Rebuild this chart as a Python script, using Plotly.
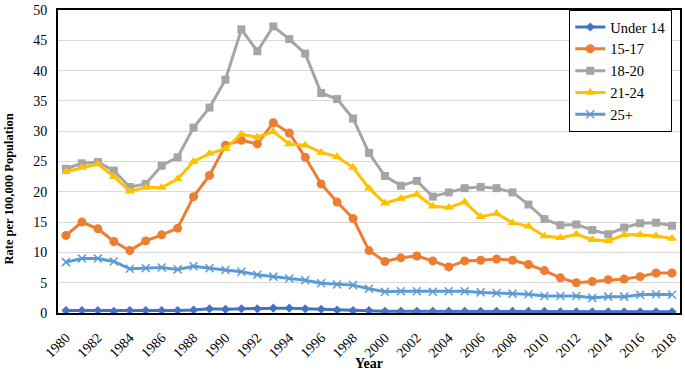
import plotly.graph_objects as go

years = list(range(1980, 2019))

under14 = [0.4, 0.4, 0.4, 0.3, 0.4, 0.4, 0.4, 0.4, 0.5, 0.7, 0.6, 0.7, 0.7, 0.8, 0.8, 0.7, 0.6, 0.5, 0.4, 0.4,
           0.3, 0.3, 0.3, 0.3, 0.3, 0.3, 0.3, 0.3, 0.3, 0.3, 0.3, 0.2, 0.2, 0.2, 0.2, 0.2, 0.2, 0.2, 0.2]
age15_17 = [12.8, 15.0, 13.9, 11.8, 10.3, 11.9, 12.9, 14.0, 19.2, 22.7, 27.7, 28.5, 27.9, 31.4, 29.7, 25.7, 21.3, 18.3, 15.6, 10.3,
            8.5, 9.1, 9.4, 8.6, 7.6, 8.6, 8.7, 8.9, 8.7, 8.0, 7.0, 5.8, 5.0, 5.2, 5.5, 5.6, 6.0, 6.6, 6.6]
age18_20 = [23.8, 24.7, 24.9, 23.5, 20.8, 21.3, 24.3, 25.7, 30.6, 33.9, 38.5, 46.8, 43.2, 47.3, 45.2, 42.8, 36.3, 35.3, 32.1, 26.4,
            22.6, 21.0, 21.8, 19.2, 19.9, 20.6, 20.8, 20.6, 19.9, 17.9, 15.5, 14.5, 14.6, 13.7, 13.0, 14.1, 14.8, 14.9, 14.4]
age21_24 = [23.3, 24.0, 24.6, 22.5, 20.1, 20.7, 20.7, 22.1, 25.0, 26.3, 27.1, 29.5, 29.0, 29.9, 27.9, 27.7, 26.5, 25.8, 24.0, 20.6,
            18.1, 18.9, 19.6, 17.6, 17.4, 18.3, 15.9, 16.4, 14.9, 14.3, 12.7, 12.4, 13.0, 12.1, 11.9, 12.9, 12.9, 12.7, 12.3]
age25p = [8.4, 9.0, 9.0, 8.5, 7.3, 7.4, 7.5, 7.2, 7.7, 7.4, 7.1, 6.8, 6.3, 6.0, 5.7, 5.4, 4.9, 4.7, 4.6, 4.0,
          3.5, 3.6, 3.6, 3.5, 3.6, 3.6, 3.4, 3.3, 3.2, 3.1, 2.8, 2.8, 2.8, 2.5, 2.7, 2.7, 3.0, 3.1, 3.0]

series = [
    ("Under 14", under14, "#4472C4", "diamond", 7),
    ("15-17", age15_17, "#ED7D31", "circle", 9),
    ("18-20", age18_20, "#A5A5A5", "square", 8),
    ("21-24", age21_24, "#FFC000", "triangle-up", 9),
    ("25+", age25p, "#5B9BD5", "x-thin-open", 8),
]

tick_years = list(range(1980, 2019, 2))
y_title = "Rate per 100,000 Population"
x_title = "Year"

font = "Liberation Serif, Times New Roman, serif"
fig = go.Figure()
for name, vals, color, sym, size in series:
    marker = dict(symbol=sym, size=size, color=color)
    if sym.startswith("x-thin"):
        marker["line"] = dict(color=color, width=1.5)
    fig.add_trace(go.Scatter(x=years, y=vals, name=name, mode="lines+markers",
                             line=dict(color=color, width=3), marker=marker))

fig.update_layout(
    width=685, height=372,
    margin=dict(l=58, r=3, t=5, b=59),
    paper_bgcolor="white", plot_bgcolor="white",
    font=dict(family=font, size=14, color="black"),
    legend=dict(x=0.822, y=1.0, xanchor="left", yanchor="top",
                bgcolor="white", bordercolor="black", borderwidth=1,
                font=dict(family=font, size=14.5), itemwidth=30,
                tracegroupgap=0),
    showlegend=True,
    annotations=[
        dict(text="<b>" + y_title + "</b>", xref="paper", yref="paper", x=0, y=0.4075,
             xshift=-49, xanchor="center", yanchor="middle", textangle=-90, showarrow=False,
             font=dict(family=font, size=12.5, color="black")),
        dict(text="<b>" + x_title + "</b>", xref="paper", yref="paper", x=0.5, y=-0.166,
             xanchor="center", yanchor="middle",
             showarrow=False, font=dict(family=font, size=14, color="black")),
    ],
)
fig.update_xaxes(range=[1979.5, 2018.5], tickmode="array", tickvals=tick_years,
                 ticktext=[str(y) for y in tick_years], tickangle=-45,
                 showgrid=False, showline=True, linecolor="black", linewidth=2,
                 mirror=True, ticks="outside", ticklen=9, tickcolor="rgba(0,0,0,0)",
                 zeroline=False, ticklabeloverflow="allow",
                 tickfont=dict(family=font, size=14))
fig.update_yaxes(range=[0, 50], dtick=5, showgrid=True, gridcolor="#D9D9D9", gridwidth=1,
                 showline=True, linecolor="black", linewidth=2, mirror=True,
                 ticks="outside", ticklen=6, tickcolor="rgba(0,0,0,0)",
                 zeroline=False, ticklabeloverflow="allow",
                 tickfont=dict(family=font, size=14))

fig.write_html("out.html", config={"displayModeBar": False},
               post_script="document.body.style.margin='0';")
